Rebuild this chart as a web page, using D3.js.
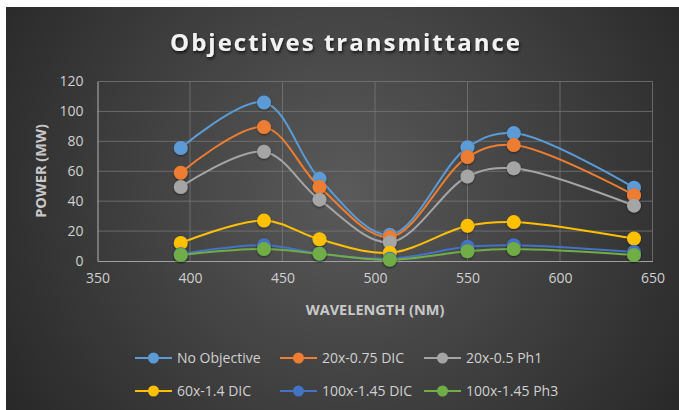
<!DOCTYPE html>
<html><head><meta charset="utf-8">
<script src="https://cdn.jsdelivr.net/npm/d3@7"></script>
<style>
html,body{margin:0;padding:0;background:#fff;}
svg{display:block;}
</style></head>
<body>
<script>
const wavelengths = [395, 440, 470, 508, 550, 575, 640];
const seriesNames = ["No Objective", "20x-0.75 DIC", "20x-0.5 Ph1", "60x-1.4 DIC", "100x-1.45 DIC", "100x-1.45 Ph3"];
const noObjective = [75.5, 106, 55, 17.5, 76, 85.5, 49];
const dic20 = [59, 89.5, 49.5, 16, 69.5, 77.5, 44];
const ph1_20 = [49.5, 73, 41, 12.5, 56.5, 62, 37];
const dic60 = [12, 27, 14.5, 5.5, 23.5, 26, 15];
const dic100 = [4.5, 10.5, 5, 1.5, 9.5, 10.5, 6];
const ph3_100 = [4, 8, 4.8, 0.8, 6.5, 8, 4];
const colors = ["#5B9BD5", "#ED7D31", "#A5A5A5", "#FFC000", "#4472C4", "#70AD47"];
const xTicks = [350, 400, 450, 500, 550, 600, 650];
const yTicks = [0, 20, 40, 60, 80, 100, 120];

const allSeries = [noObjective, dic20, ph1_20, dic60, dic100, ph3_100];
const W = 679, H = 410;
const svg = d3.select("body").append("svg").attr("width", W).attr("height", H);
const defs = svg.append("defs");
const grad = defs.append("radialGradient").attr("id","bg")
  .attr("gradientUnits","userSpaceOnUse").attr("cx",345).attr("cy",190).attr("r",420);
grad.append("stop").attr("offset","0%").attr("stop-color","#5a5a5a");
grad.append("stop").attr("offset","100%").attr("stop-color","#262626");
const sh = defs.append("filter").attr("id","tsh").attr("x","-10%").attr("y","-30%").attr("width","120%").attr("height","160%");
sh.append("feDropShadow").attr("dx",1).attr("dy",2).attr("stdDeviation",1.5).attr("flood-color","#000").attr("flood-opacity",0.7);
const msh = defs.append("filter").attr("id","msh").attr("x","-50%").attr("y","-50%").attr("width","200%").attr("height","200%");
msh.append("feDropShadow").attr("dx",0).attr("dy",1).attr("stdDeviation",1).attr("flood-color","#000").attr("flood-opacity",0.5);

svg.append("rect").attr("x",6).attr("y",7).attr("width",W-6).attr("height",H-7).attr("fill","url(#bg)");

const x = d3.scaleLinear().domain([350,650]).range([97.5,652.5]);
const y = d3.scaleLinear().domain([0,120]).range([261,81.5]);

// gridlines
const g = svg.append("g");
g.selectAll(".hg").data(yTicks.filter(d=>d>0)).join("line")
  .attr("x1",x(350)).attr("x2",x(650)).attr("y1",d=>y(d)).attr("y2",d=>y(d))
  .attr("stroke","#7a7a7a").attr("stroke-opacity",0.75).attr("stroke-width",1);
g.selectAll(".vg").data(xTicks.filter(d=>d>350)).join("line")
  .attr("x1",d=>x(d)).attr("x2",d=>x(d)).attr("y1",y(0)).attr("y2",y(120))
  .attr("stroke","#7a7a7a").attr("stroke-opacity",0.75).attr("stroke-width",1);

// axes
const xAxis = d3.axisBottom(x).tickValues(xTicks).tickSize(0).tickPadding(12);
const yAxis = d3.axisLeft(y).tickValues(yTicks).tickSize(0).tickPadding(14);
const gx = svg.append("g").attr("transform",`translate(0,${y(0)})`).call(xAxis);
const gy = svg.append("g").attr("transform",`translate(${x(350)},0)`).call(yAxis);
[gx,gy].forEach(a=>{
  a.select(".domain").attr("stroke","#a0a0a0").attr("stroke-width",1.2);
  a.selectAll("text").attr("fill","#d0d0d0").style("font-family","'Open Sans', sans-serif").style("font-size","14px");
});

// axis titles
svg.append("text").attr("x",375).attr("y",315).attr("text-anchor","middle")
  .attr("fill","#c8c8c8").style("font-family","'Open Sans', sans-serif").style("font-weight","bold").style("font-size","14.5px")
  .text("WAVELENGTH (NM)");
svg.append("text").attr("transform","translate(46,171) rotate(-90)").attr("text-anchor","middle")
  .attr("fill","#c8c8c8").style("font-family","'Open Sans', sans-serif").style("font-weight","bold").style("font-size","14.5px")
  .text("POWER (MW)");

// title
svg.append("text").attr("x",346).attr("y",51).attr("text-anchor","middle")
  .attr("fill","#f2f2f2").attr("filter","url(#tsh)")
  .style("font-family","'Open Sans', sans-serif").style("font-weight","bold").style("font-size","24px").style("letter-spacing","2px")
  .text("Objectives transmittance");

// series (later series drawn on top, as in the reference)
const line = d3.line().x((d,i)=>x(wavelengths[i])).y(d=>y(d)).curve(d3.curveCatmullRom.alpha(0.5));
allSeries.forEach((s,si)=>{
  const sg = svg.append("g");
  sg.append("path").datum(s).attr("d",line)
    .attr("fill","none").attr("stroke",colors[si]).attr("stroke-width",2);
  sg.selectAll("circle").data(s).join("circle")
    .attr("cx",(d,i)=>x(wavelengths[i])).attr("cy",d=>y(d)).attr("r",7)
    .attr("fill",colors[si]).attr("filter","url(#msh)");
});

// legend
const legX = [135, 280, 424];
const legY = [358, 391];
const leg = svg.append("g");
seriesNames.forEach((name,i)=>{
  const lx = legX[i%3], ly = legY[Math.floor(i/3)];
  leg.append("line").attr("x1",lx).attr("x2",lx+37).attr("y1",ly).attr("y2",ly)
    .attr("stroke",colors[i]).attr("stroke-width",2);
  leg.append("circle").attr("cx",lx+18.5).attr("cy",ly).attr("r",5.5).attr("fill",colors[i]);
  leg.append("text").attr("x",lx+42).attr("y",ly+5).attr("fill","#d0d0d0")
    .style("font-family","'Open Sans', sans-serif").style("font-size","14px").text(name);
});
</script>
</body></html>
